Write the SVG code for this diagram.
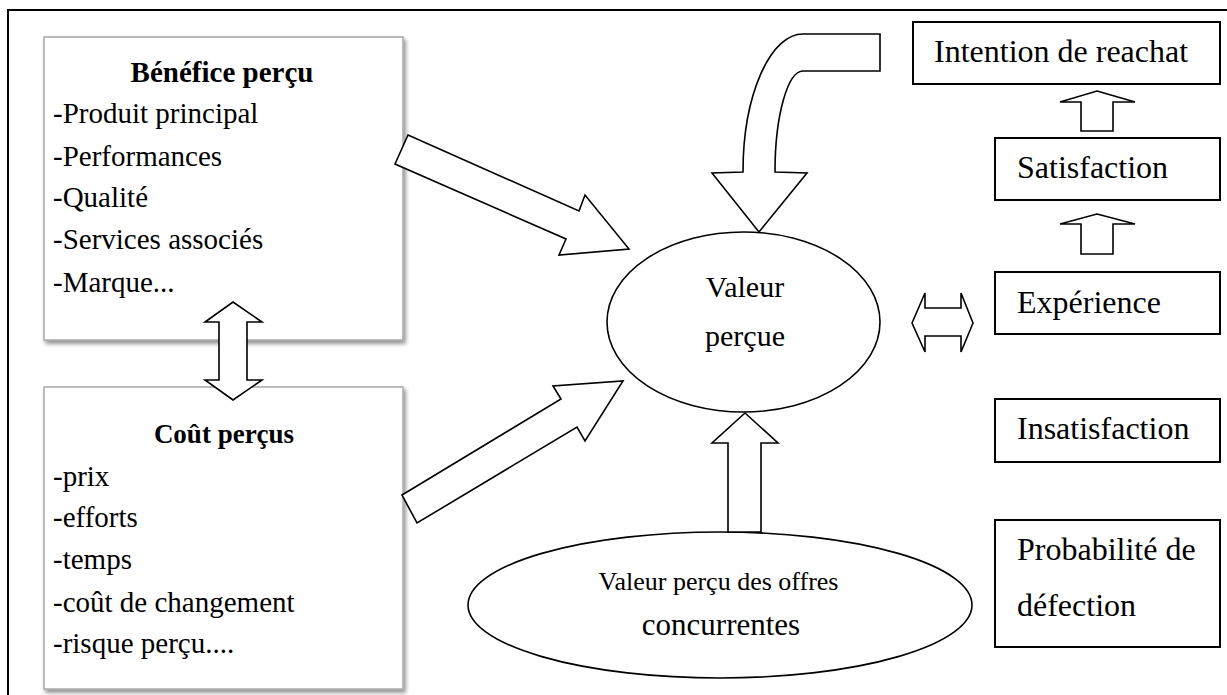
<svg xmlns="http://www.w3.org/2000/svg" width="1227" height="695" viewBox="0 0 1227 695">
<defs>
<style>
text{font-family:"Liberation Serif","Times New Roman",serif;fill:#000}
.body{font-size:29px}
.title{font-size:29px;font-weight:bold;text-anchor:middle}
.rt{font-size:32px}
.mid{text-anchor:middle}
.shape{fill:#fff;stroke:#000;stroke-width:1.6;stroke-linejoin:miter}
.box{fill:#fff;stroke:#000;stroke-width:2}
.gbox{fill:#fff;stroke:#a8a8a8;stroke-width:1.5}
</style>
<filter id="sh" x="-5%" y="-5%" width="112%" height="112%">
<feGaussianBlur in="SourceAlpha" stdDeviation="2"/>
<feOffset dx="2" dy="3" result="b"/>
<feComponentTransfer><feFuncA type="linear" slope="0.45"/></feComponentTransfer>
<feMerge><feMergeNode/><feMergeNode in="SourceGraphic"/></feMerge>
</filter>
</defs>
<rect width="1227" height="695" fill="#fff"/>
<path d="M8,695 L8,10 L1227,10" fill="none" stroke="#000" stroke-width="2"/>

<g id="benefice">
<rect class="gbox" x="44" y="37" width="359" height="303" filter="url(#sh)"/>
<text class="title" x="222" y="82">Bénéfice perçu</text>
<text class="body" x="53" y="123">-Produit principal</text>
<text class="body" x="53" y="166">-Performances</text>
<text class="body" x="53" y="207">-Qualité</text>
<text class="body" x="53" y="249">-Services associés</text>
<text class="body" x="53" y="292">-Marque...</text>
</g>

<g id="cout">
<rect class="gbox" x="44" y="387" width="359" height="302" filter="url(#sh)"/>
<text class="title" x="224" y="443" style="font-size:27px">Coût perçus</text>
<text class="body" x="53" y="486">-prix</text>
<text class="body" x="53" y="527">-efforts</text>
<text class="body" x="53" y="569">-temps</text>
<text class="body" x="53" y="612">-coût de changement</text>
<text class="body" x="53" y="653">-risque perçu....</text>
</g>

<g id="valeur">
<ellipse class="shape" cx="743.5" cy="322" rx="136.5" ry="90"/>
<text class="mid" x="745" y="297" style="font-size:30px">Valeur</text>
<text class="mid" x="745" y="346" style="font-size:30px">perçue</text>
</g>

<g id="offres">
<ellipse class="shape" cx="720" cy="605" rx="252" ry="73"/>
<text class="mid" x="718.5" y="590" style="font-size:26px">Valeur perçu des offres</text>
<text class="mid" x="721" y="635" style="font-size:31px">concurrentes</text>
</g>

<g id="intention">
<rect class="box" x="913" y="22" width="307" height="62"/>
<text class="rt" x="934" y="62">Intention de reachat</text>
</g>
<g id="satisfaction">
<rect class="box" x="995" y="138" width="225" height="62"/>
<text class="rt" x="1017" y="178">Satisfaction</text>
</g>
<g id="experience">
<rect class="box" x="995" y="272" width="225" height="62"/>
<text class="rt" x="1017" y="313">Expérience</text>
</g>
<g id="insatisfaction">
<rect class="box" x="995" y="399" width="225" height="63"/>
<text class="rt" x="1017" y="439">Insatisfaction</text>
</g>
<g id="defection">
<rect class="box" x="995" y="520" width="225" height="127"/>
<text class="rt" x="1017" y="560">Probabilité de</text>
<text class="rt" x="1017" y="616">défection</text>
</g>

<g id="connectors">
<polygon class="shape" points="233,302 262,322 247,322 247,380 262,380 233,400 205,380 219,380 219,322 205,322"/>
<polygon class="shape" points="408,135 579,211 585,195 629,249 559,255 566,239 395,164"/>
<polygon class="shape" points="402,495 561,399 553,386 623,381 585,441 577,427 417,523"/>
<polygon class="shape" points="745,413 778,443 761,443 761,532 728,532 728,443 712,443"/>
<path class="shape" d="M880,34 L803,34 A60,138 0 0 0 743,172 L712,173 L759,232 L807,173 L775,172 A28,101 0 0 1 803,71 L880,71 Z"/>
<polygon class="shape" points="912,323 925,293 925,308 961,308 961,293 973,323 961,352 961,336 925,336 925,352"/>
<polygon class="shape" points="1097,91 1135,102 1113,102 1113,131 1081,131 1081,102 1060,102"/>
<polygon class="shape" points="1097,214 1135,224 1113,224 1113,254 1081,254 1081,224 1060,224"/>
</g>
</svg>
